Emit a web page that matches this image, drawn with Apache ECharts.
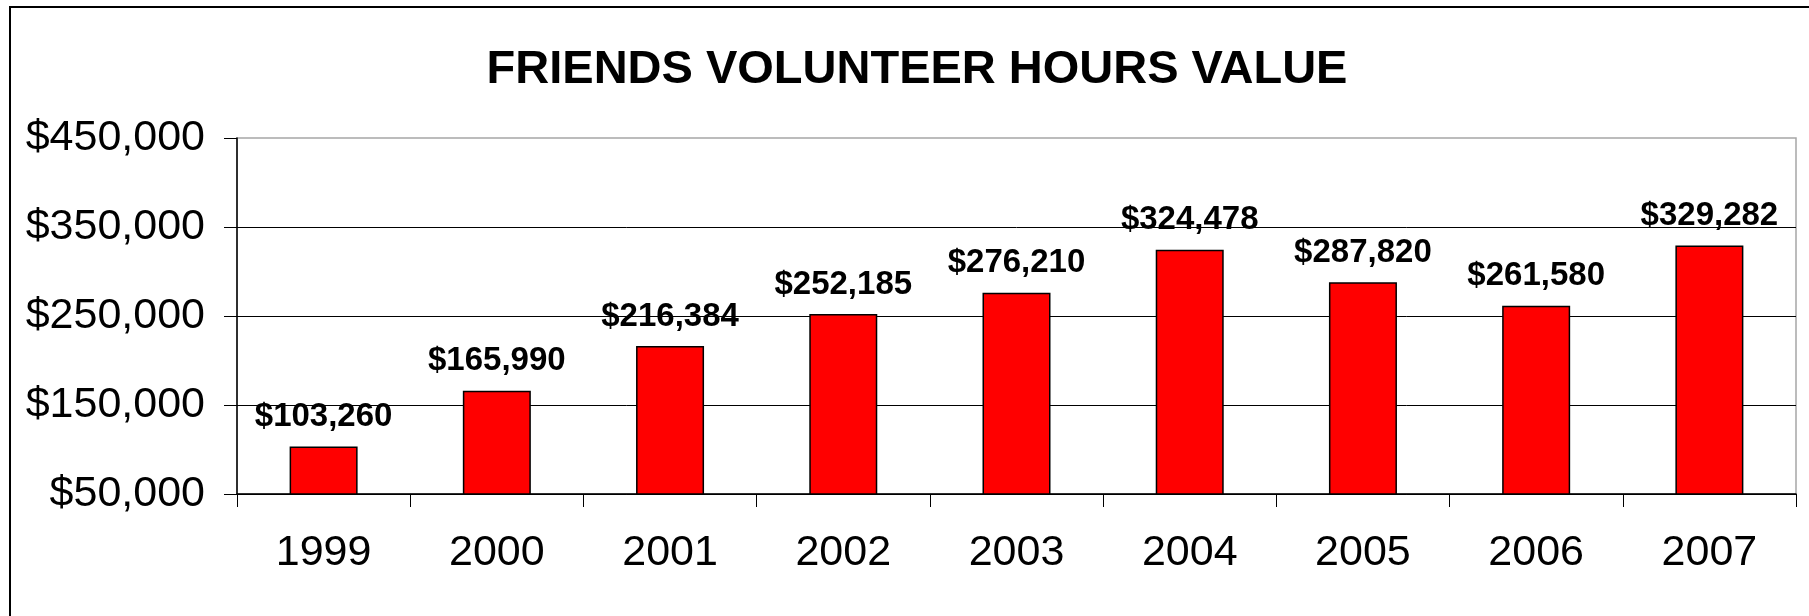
<!DOCTYPE html>
<html>
<head>
<meta charset="utf-8">
<script src="https://cdn.jsdelivr.net/npm/echarts@6/dist/echarts.min.js"></script>
<style>
  html, body { margin: 0; padding: 0; background: #fff; }
  #main { width: 1809px; height: 616px; }
</style>
</head>
<body>
<div id="main"></div>
<script>
// data
const years = ['1999', '2000', '2001', '2002', '2003', '2004', '2005', '2006', '2007']
const hoursValue = [103260, 165990, 216384, 252185, 276210, 324478, 287820, 261580, 329282]
const yTicks = [50000, 150000, 250000, 350000, 450000]

const font = "'Liberation Sans', Arial, sans-serif"
const money = v => '$' + Number(v).toLocaleString('en-US')

const chart = echarts.init(document.getElementById('main'))
chart.setOption({
  backgroundColor: '#fff',
  animation: false,
  title: {
    text: 'FRIENDS VOLUNTEER HOURS VALUE',
    left: 912,
    top: 42,
    textAlign: 'center',
    textStyle: { fontFamily: font, fontSize: 47, fontWeight: 'bold', color: '#000' }
  },
  graphic: [{
    type: 'rect',
    silent: true,
    shape: { x: 10, y: 7, width: 1850, height: 700 },
    style: { fill: 'none', stroke: '#000', lineWidth: 2 }
  }],
  grid: {
    left: 237,
    right: 13,
    top: 138,
    bottom: 122,
    show: true,
    borderColor: '#a6a6a6',
    borderWidth: 1.5,
    containLabel: false
  },
  xAxis: {
    type: 'category',
    data: years,
    axisLine: { lineStyle: { color: '#000', width: 1.5 } },
    axisTick: { show: true, length: 13, lineStyle: { color: '#000', width: 1 } },
    axisLabel: { fontFamily: font, fontSize: 43, color: '#000', margin: 38 }
  },
  yAxis: {
    type: 'value',
    min: 50000,
    max: 450000,
    axisLine: { show: true, lineStyle: { color: '#000', width: 1.5 } },
    axisTick: { show: true, length: 13, customValues: yTicks, lineStyle: { color: '#000', width: 1 } },
    axisLabel: {
      customValues: yTicks,
      fontFamily: font,
      fontSize: 43,
      color: '#000',
      margin: 32,
      formatter: money
    },
    splitLine: { show: true, showMaxLine: false, lineStyle: { color: '#000', width: 1 } }
  },
  series: [{
    type: 'bar',
    data: hoursValue,
    barWidth: 68,
    itemStyle: { color: '#ff0000', borderColor: '#000', borderWidth: 1.5 },
    label: {
      show: true,
      position: 'top',
      distance: 13,
      fontFamily: font,
      fontSize: 33,
      fontWeight: 'bold',
      color: '#000',
      formatter: p => money(p.value)
    }
  }]
})
</script>
</body>
</html>
